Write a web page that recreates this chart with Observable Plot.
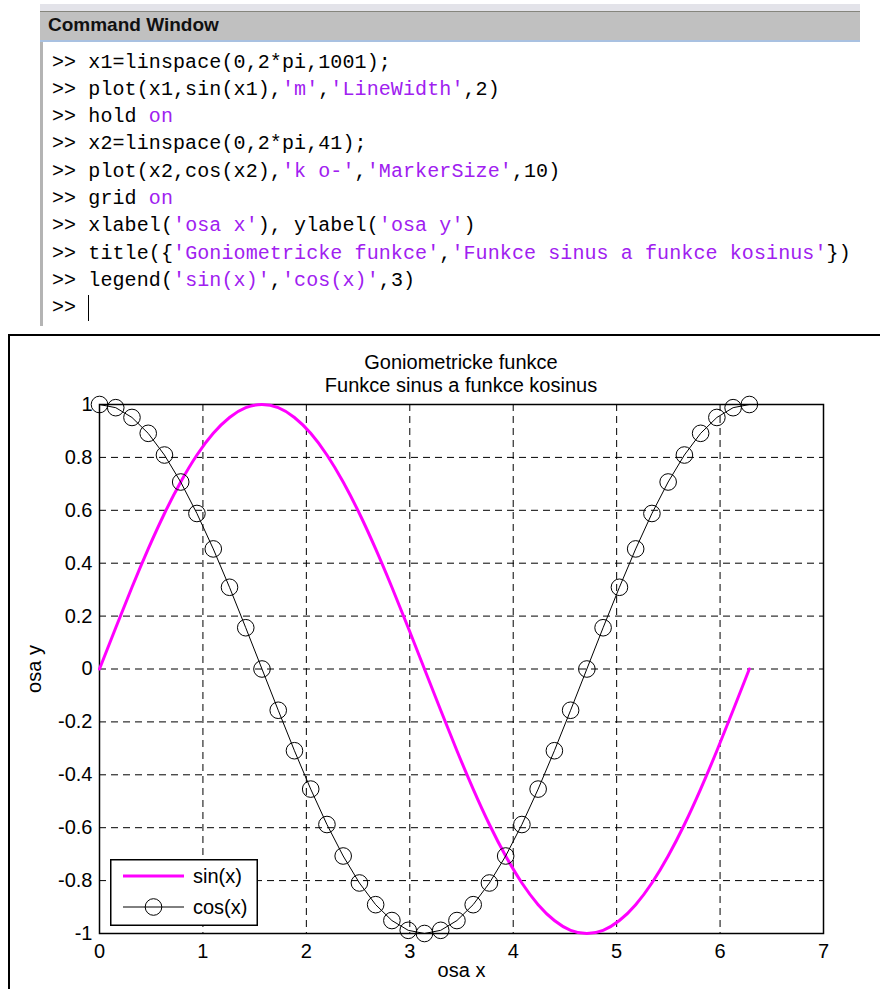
<!DOCTYPE html>
<html>
<head>
<meta charset="utf-8">
<script src="https://cdn.jsdelivr.net/npm/d3@7"></script>
<script src="https://cdn.jsdelivr.net/npm/@observablehq/plot@0.6"></script>
<style>
  html, body { margin: 0; padding: 0; background: #ffffff; }
  body { width: 880px; height: 989px; position: relative; overflow: hidden; }
  .abs { position: absolute; }
  #topstrip { left: 40px; top: 4px; width: 820px; height: 7px; background: #e3e3e9; }
  #header { left: 40px; top: 11px; width: 820px; height: 28px; background: #c0c0c0;
            border-top: 1px solid #85857d; border-bottom: 2px solid #a9c1e1; box-sizing: content-box; }
  #header span { position: absolute; left: 8px; top: 2px; line-height: 28px;
                 font: bold 19px "Liberation Sans", Arial, sans-serif; color: #111; }
  #cmdbody { left: 40px; top: 42px; width: 820px; height: 284px; background: #fff;
             border-left: 3px solid #b4b4b4; box-sizing: border-box; }
  .code { position: absolute; left: 52px; white-space: pre; font: 20px "Liberation Mono", "DejaVu Sans Mono", monospace;
          letter-spacing: 0.1px; color: #000; height: 27px; line-height: 27px; }
  .str { color: #a020f0; }
  .cursor { display: inline-block; width: 1px; height: 26px; background: #000; vertical-align: middle; }
  #figframe { left: 8px; top: 334px; width: 900px; height: 700px; border-left: 2px solid #000; border-top: 2px solid #000; background: #fff; }
  #plotwrap { left: 10px; top: 337px; }
  .title { position: absolute; left: 261px; width: 400px; text-align: center;
           font: 20px "Liberation Sans", Arial, sans-serif; color: #000; line-height: 22px; }
  #legend { left: 110px; top: 859px; }
</style>
</head>
<body>
<div id="topstrip" class="abs"></div>
<div id="header" class="abs"><span>Command Window</span></div>
<div id="cmdbody" class="abs"></div>
<div id="codelines"></div>
<div id="figframe" class="abs"></div>
<div id="plotwrap" class="abs"></div>
<div id="titles"></div>
<div id="legend" class="abs"></div>
<script>
// ---------- command window text ----------
const cmdLines = [
  [[">> x1=linspace(0,2*pi,1001);", 0]],
  [[">> plot(x1,sin(x1),", 0], ["'m'", 1], [",", 0], ["'LineWidth'", 1], [",2)", 0]],
  [[">> hold ", 0], ["on", 1]],
  [[">> x2=linspace(0,2*pi,41);", 0]],
  [[">> plot(x2,cos(x2),", 0], ["'k o-'", 1], [",", 0], ["'MarkerSize'", 1], [",10)", 0]],
  [[">> grid ", 0], ["on", 1]],
  [[">> xlabel(", 0], ["'osa x'", 1], ["), ylabel(", 0], ["'osa y'", 1], [")", 0]],
  [[">> title({", 0], ["'Goniometricke funkce'", 1], [",", 0], ["'Funkce sinus a funkce kosinus'", 1], ["})", 0]],
  [[">> legend(", 0], ["'sin(x)'", 1], [",", 0], ["'cos(x)'", 1], [",3)", 0]],
  [[">> ", 0]]
];

// ---------- chart data ----------
const titleLines = ["Goniometricke funkce", "Funkce sinus a funkce kosinus"];
const xLabel = "osa x";
const yLabel = "osa y";
const seriesNames = ["sin(x)", "cos(x)"];
const xTicks = [0, 1, 2, 3, 4, 5, 6, 7];
const yTicks = [-1, -0.8, -0.6, -0.4, -0.2, 0, 0.2, 0.4, 0.6, 0.8, 1];

// x positions of the cos markers (41 points from 0 to 2*pi)
const cosX = [0, 0.157, 0.314, 0.471, 0.628, 0.785, 0.942, 1.100, 1.257, 1.414,
  1.571, 1.728, 1.885, 2.042, 2.199, 2.356, 2.513, 2.670, 2.827, 2.985,
  3.142, 3.299, 3.456, 3.613, 3.770, 3.927, 4.084, 4.241, 4.398, 4.555,
  4.712, 4.869, 5.027, 5.184, 5.341, 5.498, 5.655, 5.812, 5.969, 6.126, 6.283];
const cosY = [1, 0.988, 0.951, 0.891, 0.809, 0.707, 0.588, 0.454, 0.309, 0.156,
  0, -0.156, -0.309, -0.454, -0.588, -0.707, -0.809, -0.891, -0.951, -0.988,
  -1, -0.988, -0.951, -0.891, -0.809, -0.707, -0.588, -0.454, -0.309, -0.156,
  0, 0.156, 0.309, 0.454, 0.588, 0.707, 0.809, 0.891, 0.951, 0.988, 1];

// sampled points along the magenta sin curve
const sinX = [0, 0.157, 0.314, 0.471, 0.628, 0.785, 0.942, 1.100, 1.257, 1.414,
  1.571, 1.728, 1.885, 2.042, 2.199, 2.356, 2.513, 2.670, 2.827, 2.985,
  3.142, 3.299, 3.456, 3.613, 3.770, 3.927, 4.084, 4.241, 4.398, 4.555,
  4.712, 4.869, 5.027, 5.184, 5.341, 5.498, 5.655, 5.812, 5.969, 6.126, 6.283];
const sinY = [0, 0.156, 0.309, 0.454, 0.588, 0.707, 0.809, 0.891, 0.951, 0.988,
  1, 0.988, 0.951, 0.891, 0.809, 0.707, 0.588, 0.454, 0.309, 0.156,
  0, -0.156, -0.309, -0.454, -0.588, -0.707, -0.809, -0.891, -0.951, -0.988,
  -1, -0.988, -0.951, -0.891, -0.809, -0.707, -0.588, -0.454, -0.309, -0.156, 0];

const sinData = sinX.map((x, i) => ({x, y: sinY[i]}));
const cosData = cosX.map((x, i) => ({x, y: cosY[i]}));

// ---------- build command window ----------
const codeWrap = document.getElementById("codelines");
cmdLines.forEach((segs, i) => {
  const div = document.createElement("div");
  div.className = "code";
  div.style.top = (48.5 + 27.3 * i) + "px";
  segs.forEach(([t, s]) => {
    const sp = document.createElement("span");
    if (s) sp.className = "str";
    sp.textContent = t;
    div.appendChild(sp);
  });
  if (i === cmdLines.length - 1) {
    const c = document.createElement("span");
    c.className = "cursor";
    div.appendChild(c);
  }
  codeWrap.appendChild(div);
});

// ---------- plot ----------
const fmt = d => String(d);
const chart = Plot.plot({
  width: 870,
  height: 652,
  marginLeft: 89,
  marginRight: 57,
  marginTop: 67,
  marginBottom: 56,
  style: {fontFamily: "'Liberation Sans', Arial, sans-serif", fontSize: "20px", color: "#000", background: "transparent", overflow: "visible"},
  x: {domain: [0, 7], ticks: xTicks, tickFormat: fmt, tickSize: 0, tickPadding: 10,
      label: xLabel, labelAnchor: "center", labelArrow: "none", labelOffset: 43},
  y: {domain: [-1, 1], ticks: yTicks, tickFormat: fmt, tickSize: 0, tickPadding: 7,
      label: yLabel, labelAnchor: "center", labelArrow: "none", labelOffset: 73},
  marks: [
    Plot.gridX(xTicks, {stroke: "#000", strokeOpacity: 1, strokeWidth: 1, strokeDasharray: "7,5"}),
    Plot.gridY(yTicks, {stroke: "#000", strokeOpacity: 1, strokeWidth: 1, strokeDasharray: "7,5"}),
    Plot.frame({stroke: "#000", strokeWidth: 1.5}),
    Plot.line(sinData, {x: "x", y: "y", stroke: "#ff00ff", strokeWidth: 3, curve: "natural"}),
    Plot.line(cosData, {x: "x", y: "y", stroke: "#000", strokeWidth: 1}),
    Plot.dot(cosData, {x: "x", y: "y", r: 8.3, stroke: "#000", fill: "none", strokeWidth: 1})
  ]
});
document.getElementById("plotwrap").appendChild(chart);

// ---------- titles ----------
const tWrap = document.getElementById("titles");
titleLines.forEach((t, i) => {
  const d = document.createElement("div");
  d.className = "title";
  d.style.top = (351 + 23 * i) + "px";
  d.textContent = t;
  tWrap.appendChild(d);
});

// ---------- legend ----------
const ns = "http://www.w3.org/2000/svg";
const lg = document.createElementNS(ns, "svg");
lg.setAttribute("width", 148);
lg.setAttribute("height", 67);
lg.style.display = "block";
lg.style.fontFamily = "'Liberation Sans', Arial, sans-serif";
lg.style.fontSize = "20px";
function el(tag, attrs, text) {
  const e = document.createElementNS(ns, tag);
  for (const k in attrs) e.setAttribute(k, attrs[k]);
  if (text) e.textContent = text;
  lg.appendChild(e);
  return e;
}
el("rect", {x: 0.75, y: 0.75, width: 146.5, height: 65.5, fill: "#fff", stroke: "#000", "stroke-width": 1.5});
el("line", {x1: 13, x2: 74, y1: 17, y2: 17, stroke: "#ff00ff", "stroke-width": 3});
el("text", {x: 83, y: 17, dy: "0.35em"}, seriesNames[0]);
el("line", {x1: 13, x2: 74, y1: 48, y2: 48, stroke: "#000", "stroke-width": 1});
el("circle", {cx: 43.5, cy: 48, r: 8.3, fill: "none", stroke: "#000", "stroke-width": 1});
el("text", {x: 83, y: 48, dy: "0.35em"}, seriesNames[1]);
document.getElementById("legend").appendChild(lg);
</script>
</body>
</html>
